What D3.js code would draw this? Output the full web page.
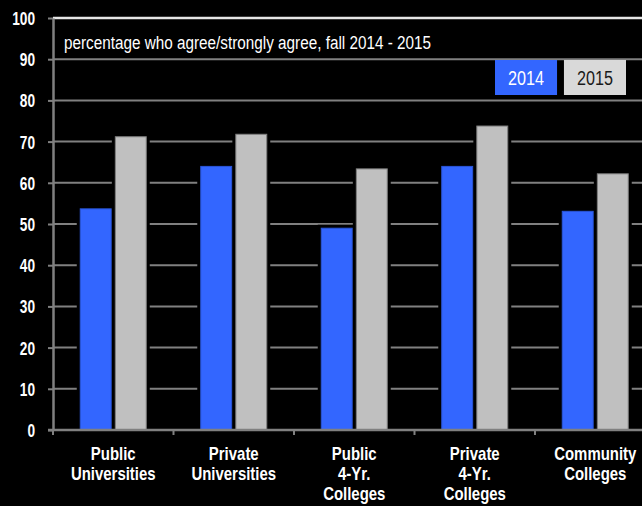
<!DOCTYPE html>
<html>
<head>
<meta charset="utf-8">
<script src="https://cdn.jsdelivr.net/npm/d3@7"></script>
<style>
html,body{margin:0;padding:0;background:#000;}
svg{display:block;}
</style>
</head>
<body>
<svg id="chart" width="642" height="506"></svg>
<script>
const categories = [
  ["Public", "Universities"],
  ["Private", "Universities"],
  ["Public", "4-Yr.", "Colleges"],
  ["Private", "4-Yr.", "Colleges"],
  ["Community", "Colleges"]
];
const seriesNames = ["2014", "2015"];
const values2014 = [53.8, 64.1, 49.1, 64.1, 53.2];
const values2015 = [71.3, 71.9, 63.5, 73.9, 62.3];
const yTicks = [0, 10, 20, 30, 40, 50, 60, 70, 80, 90, 100];
const subtitle = "percentage who agree/strongly agree, fall 2014 - 2015";

(function () {
const colors = {"2014": "#3366ff", "2015": "#c0c0c0"};
const strokes = {"2014": "#2a55d8", "2015": "#7f7f7f"};
const legendFill = {"2014": "#3366ff", "2015": "#d9d9d9"};
const legendText = {"2014": "#ffffff", "2015": "#1a1a1a"};
const FONT = "'Liberation Sans',Arial,sans-serif";

const svg = d3.select("#chart");
const mLeft = 53, mTop = 18, mBottom = 430, step = 120.5;

const catIdx = categories.map((d, i) => i);
const x0 = d3.scaleBand().domain(catIdx).range([mLeft, mLeft + step * categories.length]).padding(0);
const x1 = d3.scaleBand().domain(seriesNames).range([0, 67]).paddingInner(0.09);
const y = d3.scaleLinear().domain([0, 100]).range([mBottom, mTop]);

// gridlines
svg.append("g").selectAll("line").data(yTicks.filter(t => t > 0)).join("line")
  .attr("x1", mLeft).attr("x2", 642)
  .attr("y1", d => y(d)).attr("y2", d => y(d))
  .attr("stroke", d => d === 100 ? "#e6e6e6" : "#808080")
  .attr("stroke-width", d => d === 100 ? 2.5 : 2);

// subtitle
svg.append("text").attr("x", 64).attr("y", 49)
  .attr("fill", "#ffffff").attr("font-family", FONT).attr("font-size", 18)
  .attr("textLength", 367).attr("lengthAdjust", "spacingAndGlyphs")
  .text(subtitle);

// legend
const leg = svg.append("g");
const legX = d3.scaleBand().domain(seriesNames).range([495, 626]).paddingInner(0.1);
leg.selectAll("rect").data(seriesNames).join("rect")
  .attr("x", d => legX(d)).attr("y", 60).attr("width", legX.bandwidth()).attr("height", 35)
  .attr("fill", d => legendFill[d]);
leg.selectAll("text").data(seriesNames).join("text")
  .attr("transform", d => `translate(${legX(d) + legX.bandwidth() / 2},85) scale(0.83,1)`)
  .attr("text-anchor", "middle").attr("fill", d => legendText[d])
  .attr("font-family", FONT).attr("font-size", 19.5)
  .text(d => d);

// bars
const data = catIdx.map(i => ({i, vals: [{k: "2014", v: values2014[i]}, {k: "2015", v: values2015[i]}]}));
const cx = i => x0(i) + x0.bandwidth() / 2 - 33.5;
const groups = svg.append("g").selectAll("g").data(data).join("g")
  .attr("transform", d => `translate(${cx(d.i)},0)`);
groups.selectAll("rect.halo").data(d => d.vals).join("rect").attr("class", "halo")
  .attr("x", d => x1(d.k) - 3).attr("width", x1.bandwidth() + 6)
  .attr("y", d => y(d.v) - 3).attr("height", d => mBottom - y(d.v) + 3)
  .attr("fill", "#000");
groups.selectAll("rect.bar").data(d => d.vals).join("rect").attr("class", "bar")
  .attr("x", d => x1(d.k) + 0.5).attr("width", x1.bandwidth() - 1)
  .attr("y", d => y(d.v) + 0.5).attr("height", d => mBottom - y(d.v) - 0.5)
  .attr("fill", d => colors[d.k]).attr("stroke", d => strokes[d.k]).attr("stroke-width", 1);

// y axis
const ySX = 0.76;
const yAxis = d3.axisLeft(y).tickValues(yTicks).tickSize(5).tickPadding(0).tickSizeOuter(0);
const ya = svg.append("g").attr("transform", `translate(${mLeft},0)`).call(yAxis);
ya.select(".domain").attr("stroke", "#808080").attr("stroke-width", 2.5);
ya.selectAll(".tick line").attr("stroke", "#808080").attr("stroke-width", 2);
ya.selectAll(".tick text").attr("fill", "#ffffff").attr("font-family", FONT)
  .attr("font-size", 18).attr("font-weight", "bold").attr("dy", "0.36em")
  .attr("x", -18 / ySX).attr("transform", `scale(${ySX},1)`);

// x axis
const xa = svg.append("g").attr("transform", `translate(0,${mBottom})`);
xa.append("line").attr("x1", mLeft - 5).attr("x2", 642).attr("y1", 0).attr("y2", 0)
  .attr("stroke", "#808080").attr("stroke-width", 2.5);
xa.selectAll("line.tick").data(catIdx).join("line").attr("class", "tick")
  .attr("x1", d => x0(d)).attr("x2", d => x0(d)).attr("y1", 0).attr("y2", 5)
  .attr("stroke", "#808080").attr("stroke-width", 2);
const labels = xa.selectAll("text").data(catIdx).join("text")
  .attr("transform", d => `translate(${x0(d) + x0.bandwidth() / 2},29.5) scale(0.83,1)`)
  .attr("text-anchor", "middle").attr("fill", "#ffffff").attr("font-family", FONT)
  .attr("font-size", 18).attr("font-weight", "bold");
labels.selectAll("tspan").data(d => categories[d]).join("tspan")
  .attr("x", 0)
  .attr("dy", (d, j) => j === 0 ? 0 : 20.5)
  .text(d => d);
})();
</script>
</body>
</html>
